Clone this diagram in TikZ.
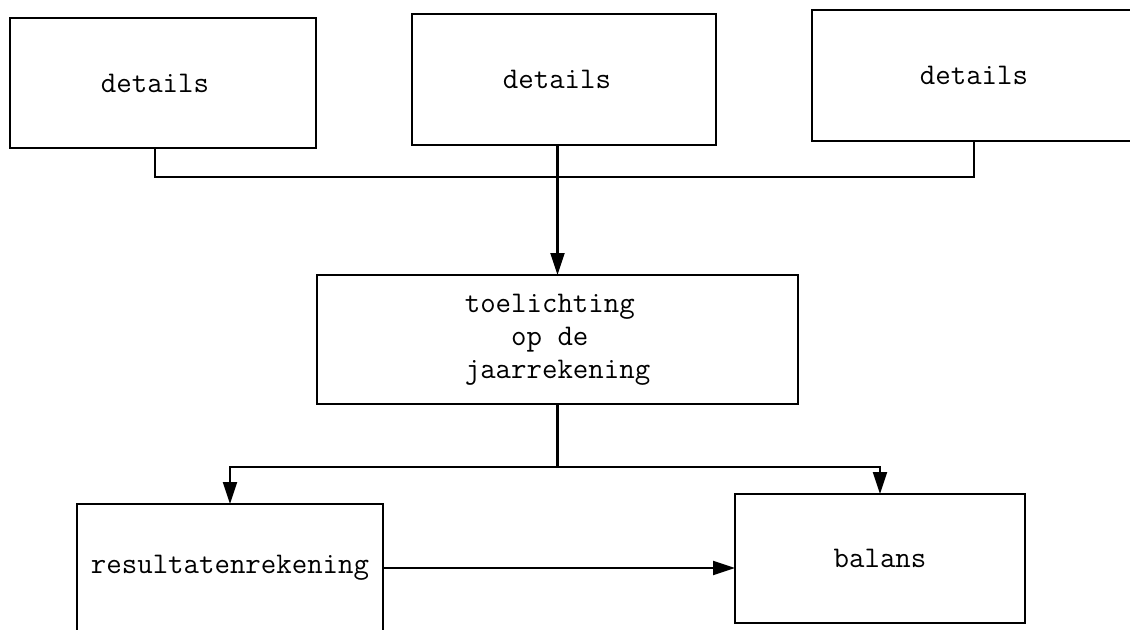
\documentclass[tikz,border=0pt]{standalone}
\usepackage{tikz}
\usetikzlibrary{arrows.meta,calc}

\begin{document}
\begin{tikzpicture}[
  x=0.5pt,y=-0.5pt,
  font=\ttfamily\fontsize{15}{16.5}\selectfont,
  box/.style={draw,line width=1.2pt,inner sep=0pt,outer sep=0pt,align=left},
  flow/.style={-{Triangle[length=11pt,width=7pt]},line width=1.1pt},
  link/.style={line width=1.1pt},
]
\useasboundingbox (0,0) rectangle (1130,629);
\clip (0,0) rectangle (1130,629);

% Details (top row)
\node[box,minimum width=153pt,minimum height=65pt] (det1) at (163,83) {details\hspace*{8pt}};
\node[box,minimum width=152pt,minimum height=65.5pt] (det2) at (564,79.5) {details\hspace*{7pt}};
\node[box,minimum width=162pt,minimum height=65.5pt] (det3) at (974,75.5) {details};

% Notes
\node[box,minimum width=240.5pt,minimum height=64.5pt] (toel) at (557.5,339.5)
  {toelichting\\\phantom{xxx}op de\\jaarrekening};

% Statements (bottom row)
\node[box,minimum width=153pt,minimum height=64pt] (res) at (230,568) {resultatenrekening};
\node[box,minimum width=145pt,minimum height=64.5pt] (bal) at (880,558.5) {balans};

% bus under the details
\coordinate (det1foot) at ($(det1.south)+(-8,0)$);
\coordinate (bus) at (557,177);
\draw[link] (det1foot) -- (det1foot |- bus) -- (det3.south |- bus) -- (det3.south);
\draw[flow] (toel.north |- det2.south) -- (toel.north);

% split to the statements
\coordinate (split) at (557.5,467);
\draw[link] (toel.south) -- (split);
\draw[flow] (split) -| (res.north);
\draw[flow] (split) -| (bal.north);
\draw[flow] (res.east) -- (res.east -| bal.west);
\end{tikzpicture}
\end{document}
